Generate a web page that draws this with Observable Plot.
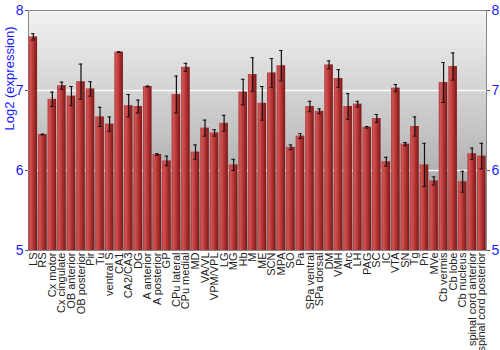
<!DOCTYPE html>
<html>
<head>
<meta charset="utf-8">
<script src="https://cdn.jsdelivr.net/npm/d3@7"></script>
<script src="https://cdn.jsdelivr.net/npm/@observablehq/plot@0.6"></script>
<style>
  html, body { margin: 0; padding: 0; background: #fff; }
  #chart { width: 500px; height: 350px; }
</style>
</head>
<body>
<div id="chart"></div>
<script>
const regions = ["LS","RS","Cx motor","Cx cingulate","OB anterior","OB posterior","Pir","Tu","ventral S","CA1","CA2/CA3","DG","A anterior","A posterior","GP","CPu lateral","CPu medial","MD","VA/VL","VPM/VPL","LG","MG","Hb","M","ME","SCN","MPA","SO","Pa","SPa ventral","SPa dorsal","DM","VMH","Arc","LH","PAG","SC","IC","VTA","SN","Tg","Pn","MVe","Cb vermis","Cb lobe","Cb nucleus","spinal cord anterior","spinal cord posterior"];
const values = [7.67,6.45,6.89,7.06,6.93,7.11,7.02,6.67,6.58,7.48,6.81,6.80,7.05,6.20,6.12,6.95,7.29,6.23,6.53,6.47,6.59,6.07,6.98,7.20,6.84,7.22,7.31,6.29,6.43,6.80,6.74,7.32,7.15,6.80,6.83,6.54,6.65,6.11,7.03,6.33,6.55,6.07,5.87,7.10,7.30,5.86,6.21,6.18];
const errors = [0.04,0.005,0.09,0.045,0.12,0.22,0.09,0.12,0.09,0.005,0.14,0.08,0.005,0.01,0.06,0.23,0.05,0.09,0.10,0.04,0.10,0.07,0.16,0.21,0.21,0.18,0.19,0.03,0.03,0.065,0.03,0.05,0.11,0.16,0.035,0.01,0.05,0.055,0.045,0.02,0.12,0.27,0.05,0.25,0.17,0.13,0.07,0.16];
const yTicks = [5,6,7,8];

const data = regions.map((r, i) => ({region: r, value: values[i], lo: values[i] - errors[i], hi: values[i] + errors[i]}));

const plot = Plot.plot({
  width: 500,
  height: 350,
  marginLeft: 28,
  marginRight: 14,
  marginTop: 10,
  marginBottom: 100,
  style: {fontFamily: "'Liberation Sans', Arial, sans-serif", background: "#fff"},
  x: {domain: regions, paddingInner: 0.1, paddingOuter: 0.05, round: false, label: null},
  y: {domain: [5, 8], label: null},
  marks: [
    Plot.frame({fill: "url(#bgGrad)", stroke: "#888"}),
    Plot.gridY(yTicks.slice(1, 3), {stroke: "#fff", strokeOpacity: 0.9, strokeWidth: 1.5}),
    Plot.barY(data, {x: "region", y1: 5, y2: "value", fill: "url(#barGrad)"}),
    Plot.ruleX(data, {x: "region", y1: "lo", y2: "hi", stroke: "#111", strokeWidth: 1.2}),
    Plot.tickY(data, {x: "region", y: "lo", stroke: "#111", strokeWidth: 1, insetLeft: 2.5, insetRight: 2.5}),
    Plot.tickY(data, {x: "region", y: "hi", stroke: "#111", strokeWidth: 1, insetLeft: 2.5, insetRight: 2.5}),
    Plot.axisX({tickRotate: -90, tickSize: 0, tickPadding: 2, fontSize: 11, fill: "#222", label: null}),
    Plot.axisY({anchor: "left", ticks: yTicks, tickFormat: d3.format("d"), tickSize: 3, tickPadding: 2, fontSize: 14, fill: "#1a1aff", stroke: "#555", label: null}),
    Plot.axisY({anchor: "right", ticks: yTicks, tickFormat: d3.format("d"), tickSize: 3, tickPadding: 2, fontSize: 14, fill: "#1a1aff", stroke: "#555", label: null}),
    Plot.text(["Log2 (expression)"], {frameAnchor: "left", dx: -19, rotate: -90, fill: "#1a1aff", fontSize: 13})
  ]
});

const svg = d3.select(plot);
const defs = svg.insert("defs", ":first-child");
const bg = defs.append("linearGradient").attr("id", "bgGrad").attr("x1", 0).attr("y1", 0).attr("x2", 0).attr("y2", 1);
bg.append("stop").attr("offset", "0%").attr("stop-color", "#f2f2f2");
bg.append("stop").attr("offset", "50%").attr("stop-color", "#c4c4c4");
bg.append("stop").attr("offset", "100%").attr("stop-color", "#8e8e8e");
const bar = defs.append("linearGradient").attr("id", "barGrad").attr("x1", 0).attr("y1", 0).attr("x2", 1).attr("y2", 0);
bar.append("stop").attr("offset", "0%").attr("stop-color", "#b03838");
bar.append("stop").attr("offset", "20%").attr("stop-color", "#d05454");
bar.append("stop").attr("offset", "55%").attr("stop-color", "#b53434");
bar.append("stop").attr("offset", "100%").attr("stop-color", "#7a1818");

document.getElementById("chart").appendChild(plot);
</script>
</body>
</html>
